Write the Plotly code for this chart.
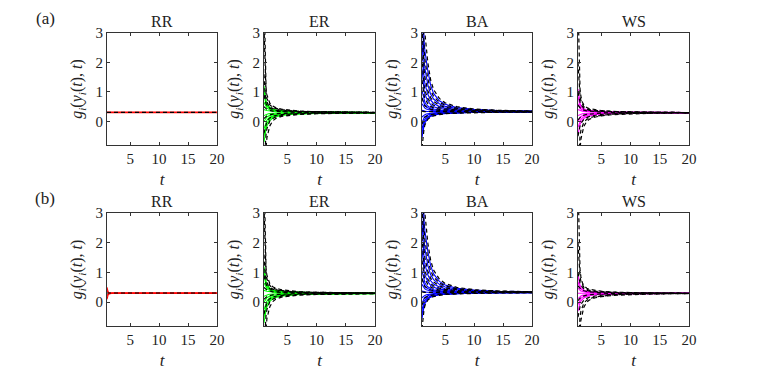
import plotly.graph_objects as go

# time grid shared by all curves
T = [1, 1.1, 1.2, 1.35, 1.5, 1.75, 2, 2.5, 3, 4, 5, 7, 10, 14, 20]

# ---- RR ----
RR_A_SIM = [
    [0.32, 0.32, 0.32, 0.32, 0.32, 0.32, 0.32, 0.32, 0.32, 0.32, 0.32, 0.32, 0.32, 0.32, 0.32],
    [0.30, 0.30, 0.30, 0.30, 0.30, 0.30, 0.30, 0.30, 0.30, 0.30, 0.30, 0.30, 0.30, 0.30, 0.30],
]
RR_A_TH = [
    [0.31, 0.31, 0.31, 0.31, 0.31, 0.31, 0.31, 0.31, 0.31, 0.31, 0.31, 0.31, 0.31, 0.31, 0.31],
]
RR_B_SIM = [
    [0.50, 0.40, 0.35, 0.32, 0.31, 0.31, 0.31, 0.31, 0.31, 0.31, 0.31, 0.31, 0.31, 0.31, 0.31],
    [0.40, 0.35, 0.33, 0.32, 0.31, 0.31, 0.31, 0.31, 0.31, 0.31, 0.31, 0.31, 0.31, 0.31, 0.31],
    [0.22, 0.26, 0.28, 0.29, 0.30, 0.30, 0.30, 0.30, 0.30, 0.30, 0.30, 0.30, 0.30, 0.30, 0.30],
    [0.10, 0.20, 0.25, 0.28, 0.29, 0.30, 0.30, 0.30, 0.30, 0.30, 0.30, 0.30, 0.30, 0.30, 0.30],
]
RR_B_TH = RR_A_TH

# ---- ER ----
ER_SIM = [
    [1.20, 1.00, 0.85, 0.70, 0.60, 0.52, 0.47, 0.42, 0.39, 0.36, 0.35, 0.33, 0.32, 0.31, 0.30],
    [1.05, 0.90, 0.77, 0.64, 0.56, 0.49, 0.45, 0.40, 0.38, 0.35, 0.34, 0.33, 0.32, 0.31, 0.30],
    [0.90, 0.78, 0.68, 0.58, 0.52, 0.46, 0.43, 0.39, 0.37, 0.35, 0.34, 0.32, 0.31, 0.31, 0.30],
    [0.65, 0.60, 0.55, 0.50, 0.46, 0.42, 0.40, 0.37, 0.35, 0.34, 0.33, 0.32, 0.31, 0.30, 0.30],
    [0.40, 0.40, 0.39, 0.38, 0.37, 0.36, 0.35, 0.34, 0.33, 0.32, 0.32, 0.31, 0.30, 0.30, 0.30],
    [0.20, 0.21, 0.22, 0.24, 0.25, 0.26, 0.27, 0.28, 0.28, 0.29, 0.29, 0.29, 0.30, 0.30, 0.30],
    [0.00, 0.04, 0.08, 0.12, 0.15, 0.18, 0.20, 0.23, 0.24, 0.26, 0.27, 0.28, 0.29, 0.29, 0.30],
    [-0.25, -0.18, -0.10, -0.02, 0.04, 0.10, 0.14, 0.18, 0.21, 0.24, 0.25, 0.27, 0.28, 0.29, 0.30],
    [-0.50, -0.38, -0.27, -0.14, -0.06, 0.03, 0.08, 0.15, 0.18, 0.22, 0.24, 0.26, 0.28, 0.29, 0.29],
    [-0.70, -0.55, -0.42, -0.26, -0.15, -0.04, 0.03, 0.11, 0.16, 0.20, 0.23, 0.26, 0.27, 0.28, 0.29],
]
ER_TH = [
    [4.50, 3.00, 1.90, 1.15, 0.90, 0.72, 0.62, 0.52, 0.47, 0.42, 0.39, 0.35, 0.33, 0.32, 0.31],
    [3.20, 2.20, 1.40, 0.95, 0.78, 0.64, 0.56, 0.48, 0.44, 0.40, 0.37, 0.34, 0.33, 0.32, 0.31],
    [1.60, 1.20, 0.95, 0.75, 0.64, 0.55, 0.50, 0.44, 0.41, 0.38, 0.36, 0.34, 0.32, 0.31, 0.30],
    [0.90, 0.80, 0.70, 0.60, 0.54, 0.48, 0.45, 0.40, 0.38, 0.35, 0.34, 0.32, 0.31, 0.31, 0.30],
    [0.50, 0.48, 0.46, 0.43, 0.41, 0.39, 0.37, 0.35, 0.34, 0.33, 0.32, 0.31, 0.30, 0.30, 0.30],
    [0.10, 0.12, 0.14, 0.17, 0.19, 0.21, 0.23, 0.25, 0.26, 0.27, 0.28, 0.29, 0.29, 0.30, 0.30],
    [-0.40, -0.30, -0.20, -0.08, 0.00, 0.07, 0.12, 0.17, 0.20, 0.23, 0.25, 0.27, 0.28, 0.29, 0.30],
    [-1.50, -1.10, -0.80, -0.45, -0.25, -0.08, 0.02, 0.10, 0.15, 0.20, 0.22, 0.25, 0.27, 0.28, 0.29],
    [-3.00, -2.20, -1.60, -0.90, -0.55, -0.30, -0.15, 0.02, 0.10, 0.17, 0.20, 0.24, 0.26, 0.28, 0.29],
]

# ---- BA ----
BA_SIM = [
    [5.20, 4.10, 3.40, 2.75, 2.40, 2.00, 1.72, 1.22, 0.95, 0.70, 0.58, 0.47, 0.41, 0.37, 0.35],
    [3.80, 3.10, 2.60, 2.10, 1.80, 1.45, 1.25, 0.92, 0.76, 0.60, 0.51, 0.44, 0.39, 0.36, 0.34],
    [2.70, 2.20, 1.85, 1.50, 1.28, 1.05, 0.92, 0.72, 0.61, 0.51, 0.45, 0.40, 0.37, 0.35, 0.34],
    [1.80, 1.50, 1.26, 1.06, 0.92, 0.78, 0.69, 0.57, 0.50, 0.44, 0.41, 0.37, 0.35, 0.34, 0.33],
    [1.05, 0.95, 0.84, 0.73, 0.65, 0.57, 0.52, 0.46, 0.42, 0.39, 0.37, 0.35, 0.34, 0.33, 0.33],
    [0.80, 0.74, 0.67, 0.60, 0.55, 0.50, 0.46, 0.42, 0.39, 0.37, 0.36, 0.34, 0.33, 0.33, 0.33],
    [0.60, 0.56, 0.52, 0.48, 0.45, 0.42, 0.40, 0.38, 0.36, 0.35, 0.34, 0.34, 0.33, 0.33, 0.33],
    [0.38, 0.37, 0.36, 0.35, 0.35, 0.34, 0.34, 0.33, 0.33, 0.33, 0.33, 0.33, 0.33, 0.33, 0.33],
    [0.15, 0.17, 0.19, 0.21, 0.23, 0.25, 0.26, 0.28, 0.29, 0.30, 0.31, 0.32, 0.32, 0.33, 0.33],
    [-0.05, 0.02, 0.07, 0.12, 0.16, 0.20, 0.22, 0.25, 0.27, 0.29, 0.30, 0.31, 0.32, 0.32, 0.33],
    [-0.25, -0.15, -0.07, 0.02, 0.08, 0.13, 0.16, 0.21, 0.23, 0.26, 0.28, 0.30, 0.31, 0.32, 0.32],
    [-0.40, -0.28, -0.18, -0.07, 0.01, 0.09, 0.13, 0.19, 0.22, 0.26, 0.27, 0.29, 0.31, 0.32, 0.32],
    [-0.55, -0.40, -0.27, -0.14, -0.05, 0.05, 0.10, 0.17, 0.21, 0.25, 0.27, 0.29, 0.31, 0.32, 0.32],
]
BA_TH = [
    [6.00, 5.00, 4.20, 3.50, 3.00, 2.45, 2.00, 1.40, 1.08, 0.78, 0.63, 0.50, 0.42, 0.38, 0.35],
    [4.50, 3.70, 3.10, 2.50, 2.10, 1.70, 1.45, 1.05, 0.85, 0.65, 0.55, 0.45, 0.40, 0.37, 0.34],
    [3.20, 2.60, 2.20, 1.80, 1.50, 1.20, 1.05, 0.80, 0.68, 0.55, 0.48, 0.42, 0.38, 0.36, 0.34],
    [2.20, 1.80, 1.50, 1.25, 1.05, 0.88, 0.78, 0.63, 0.55, 0.47, 0.43, 0.39, 0.36, 0.35, 0.34],
    [1.40, 1.20, 1.02, 0.88, 0.78, 0.67, 0.60, 0.51, 0.46, 0.41, 0.39, 0.36, 0.35, 0.34, 0.33],
    [0.80, 0.72, 0.65, 0.58, 0.53, 0.48, 0.45, 0.41, 0.39, 0.37, 0.35, 0.34, 0.33, 0.33, 0.33],
    [0.35, 0.34, 0.34, 0.33, 0.33, 0.33, 0.33, 0.33, 0.33, 0.33, 0.33, 0.33, 0.33, 0.33, 0.33],
    [-0.10, -0.02, 0.04, 0.10, 0.14, 0.18, 0.20, 0.23, 0.25, 0.27, 0.28, 0.30, 0.31, 0.32, 0.32],
    [-0.90, -0.65, -0.45, -0.25, -0.12, 0.00, 0.07, 0.15, 0.19, 0.23, 0.26, 0.28, 0.30, 0.31, 0.32],
]

# ---- WS ----
WS_A_SIM = [
    [1.10, 0.90, 0.76, 0.62, 0.54, 0.47, 0.43, 0.39, 0.37, 0.35, 0.34, 0.32, 0.31, 0.31, 0.30],
    [0.85, 0.72, 0.63, 0.54, 0.48, 0.43, 0.40, 0.37, 0.35, 0.34, 0.33, 0.32, 0.31, 0.30, 0.30],
    [0.60, 0.55, 0.50, 0.45, 0.42, 0.39, 0.37, 0.35, 0.34, 0.33, 0.32, 0.31, 0.31, 0.30, 0.30],
    [0.40, 0.39, 0.38, 0.37, 0.36, 0.35, 0.34, 0.33, 0.33, 0.32, 0.31, 0.31, 0.30, 0.30, 0.30],
    [0.20, 0.21, 0.22, 0.24, 0.25, 0.26, 0.27, 0.28, 0.28, 0.29, 0.29, 0.29, 0.30, 0.30, 0.30],
    [0.00, 0.04, 0.08, 0.13, 0.16, 0.19, 0.21, 0.24, 0.25, 0.27, 0.28, 0.29, 0.29, 0.30, 0.30],
    [-0.20, -0.13, -0.06, 0.02, 0.07, 0.12, 0.16, 0.20, 0.22, 0.25, 0.26, 0.28, 0.29, 0.29, 0.30],
    [-0.45, -0.33, -0.22, -0.10, -0.03, 0.05, 0.10, 0.16, 0.19, 0.23, 0.25, 0.27, 0.28, 0.29, 0.30],
]
WS_B_SIM = [
    [0.90, 0.76, 0.66, 0.56, 0.50, 0.44, 0.41, 0.37, 0.35, 0.34, 0.33, 0.32, 0.31, 0.30, 0.30],
    [0.68, 0.60, 0.54, 0.48, 0.44, 0.40, 0.38, 0.35, 0.34, 0.33, 0.32, 0.31, 0.31, 0.30, 0.30],
    [0.48, 0.45, 0.43, 0.40, 0.38, 0.36, 0.35, 0.33, 0.33, 0.32, 0.31, 0.31, 0.30, 0.30, 0.30],
    [0.30, 0.30, 0.30, 0.30, 0.30, 0.30, 0.30, 0.30, 0.30, 0.30, 0.30, 0.30, 0.30, 0.30, 0.30],
    [0.12, 0.14, 0.16, 0.19, 0.21, 0.23, 0.24, 0.26, 0.27, 0.28, 0.29, 0.29, 0.30, 0.30, 0.30],
    [-0.08, -0.03, 0.03, 0.09, 0.13, 0.17, 0.19, 0.22, 0.24, 0.26, 0.27, 0.28, 0.29, 0.30, 0.30],
    [-0.30, -0.20, -0.11, -0.01, 0.05, 0.11, 0.14, 0.19, 0.22, 0.25, 0.26, 0.28, 0.29, 0.29, 0.30],
]
WS_TH = [
    [4.00, 2.80, 1.80, 1.10, 0.85, 0.65, 0.56, 0.47, 0.43, 0.39, 0.37, 0.34, 0.32, 0.31, 0.30],
    [2.00, 1.50, 1.15, 0.85, 0.70, 0.57, 0.50, 0.43, 0.40, 0.37, 0.35, 0.33, 0.32, 0.31, 0.30],
    [1.00, 0.88, 0.77, 0.65, 0.57, 0.49, 0.45, 0.40, 0.37, 0.35, 0.34, 0.32, 0.31, 0.31, 0.30],
    [0.55, 0.52, 0.49, 0.45, 0.43, 0.40, 0.38, 0.36, 0.35, 0.33, 0.32, 0.31, 0.31, 0.30, 0.30],
    [0.05, 0.08, 0.11, 0.15, 0.17, 0.20, 0.22, 0.24, 0.25, 0.27, 0.28, 0.29, 0.29, 0.30, 0.30],
    [-0.50, -0.38, -0.27, -0.15, -0.07, 0.02, 0.07, 0.13, 0.17, 0.21, 0.24, 0.26, 0.28, 0.29, 0.30],
    [-1.60, -1.20, -0.85, -0.50, -0.30, -0.12, -0.03, 0.07, 0.12, 0.18, 0.21, 0.25, 0.27, 0.28, 0.29],
    [-3.00, -2.20, -1.60, -0.95, -0.60, -0.32, -0.17, 0.00, 0.08, 0.15, 0.19, 0.23, 0.26, 0.28, 0.29],
]

PANEL_TITLES = ['RR', 'ER', 'BA', 'WS']
ROW_LABELS = ['(a)', '(b)']
X_TICKS = [5, 10, 15, 20]
Y_TICKS = [0, 1, 2, 3]

panels = [
    [(RR_A_SIM, RR_A_TH, '#ff0000'), (ER_SIM, ER_TH, '#00ff00'),
     (BA_SIM, BA_TH, '#0000ff'), (WS_A_SIM, WS_TH, '#ff00ff')],
    [(RR_B_SIM, RR_B_TH, '#ff0000'), (ER_SIM, ER_TH, '#00ff00'),
     (BA_SIM, BA_TH, '#0000ff'), (WS_B_SIM, WS_TH, '#ff00ff')],
]

W, H = 763, 381
PAD = 8  # page body margin in front of the plot div
COL_PX = [(107, 217), (264, 375), (422, 532), (578, 689)]
ROW_PX = [(33, 145), (213, 326)]
FONT = 'Liberation Serif'
TXT = '#222222'


def px_x(p):
    return (p - PAD) / W


def px_y(p):
    return 1 - (p - PAD) / H


fig = go.Figure()
annotations = []
ytitle = '<i>g<sub>i</sub></i>(<i>y<sub>i</sub></i>(<i>t</i>), <i>t</i>)'

n = 0
for r in range(2):
    for c in range(4):
        n += 1
        xa = 'x' if n == 1 else f'x{n}'
        ya = 'y' if n == 1 else f'y{n}'
        sim, th, color = panels[r][c]
        for ys in sim:
            fig.add_trace(go.Scatter(x=T, y=ys, mode='lines', xaxis=xa, yaxis=ya,
                                     line=dict(color=color, width=1.1), showlegend=False))
        for ys in th:
            fig.add_trace(go.Scatter(x=T, y=ys, mode='lines', xaxis=xa, yaxis=ya,
                                     line=dict(color='black', width=1.2, dash='4px,3px'),
                                     showlegend=False))
        x0, x1 = COL_PX[c]
        y0, y1 = ROW_PX[r]
        common = dict(showline=True, linecolor='#333333', linewidth=1, mirror='ticks',
                      ticks='inside', ticklen=3, tickcolor='#333333', showgrid=False,
                      zeroline=False, automargin=False,
                      tickfont=dict(family=FONT, size=15, color=TXT))
        fig.layout[xa.replace('x', 'xaxis')] = dict(
            domain=[px_x(x0), px_x(x1)], range=[1, 20], tickvals=X_TICKS, anchor=ya,
            title=dict(text='<i>t</i>', font=dict(family=FONT, size=17, color=TXT), standoff=7),
            **common)
        fig.layout[ya.replace('y', 'yaxis')] = dict(
            domain=[px_y(y1), px_y(y0)], range=[-0.8, 3], tickvals=Y_TICKS, anchor=xa,
            title=dict(text=ytitle, font=dict(family=FONT, size=16, color=TXT), standoff=8),
            **common)
        annotations.append(dict(text=PANEL_TITLES[c], x=px_x((x0 + x1) / 2), y=px_y(y0 - 1),
                                xref='paper', yref='paper', xanchor='center', yanchor='bottom',
                                showarrow=False, font=dict(family=FONT, size=16, color=TXT)))
    annotations.append(dict(text=ROW_LABELS[r], x=px_x(45), y=px_y(ROW_PX[r][0] - 15),
                            xref='paper', yref='paper', xanchor='center', yanchor='middle',
                            showarrow=False, font=dict(family=FONT, size=17, color=TXT)))

fig.update_layout(width=W, height=H, margin=dict(l=0, r=0, t=0, b=0),
                  plot_bgcolor='white', paper_bgcolor='white', annotations=annotations)
fig.write_html("out.html")
